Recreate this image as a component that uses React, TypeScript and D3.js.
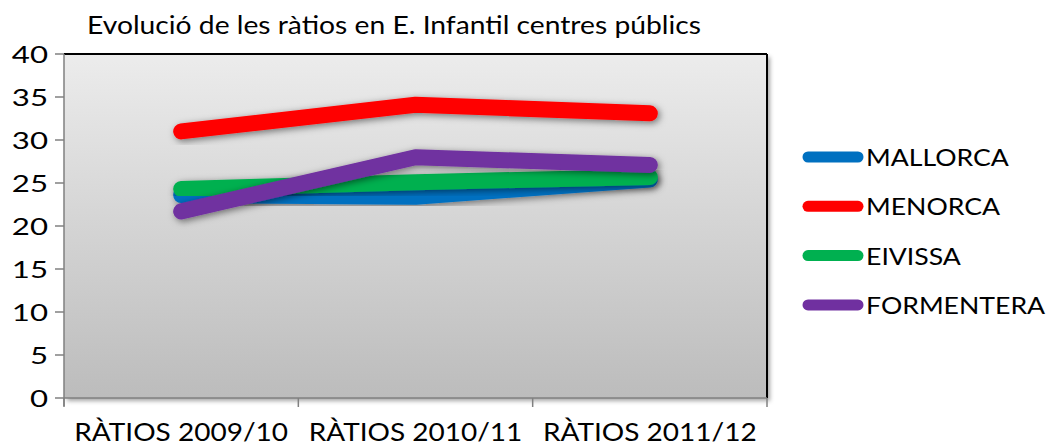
import React from "react";
import * as d3 from "d3";

const categories = ["RÀTIOS 2009/10", "RÀTIOS 2010/11", "RÀTIOS 2011/12"];
const seriesNames = ["MALLORCA", "MENORCA", "EIVISSA", "FORMENTERA"];
const seriesColors = ["#0070c0", "#ff0000", "#00b050", "#7030a0"];
const mallorca = [23.6, 23.4, 25.4];
const menorca = [31.0, 34.1, 33.1];
const eivissa = [24.3, 25.1, 25.7];
const formentera = [21.7, 28.0, 27.1];
const yTicks = [0, 5, 10, 15, 20, 25, 30, 35, 40];
const title = "Evolució de les ràtios en E. Infantil centres públics";

const W = 1052;
const H = 446;
const left = 64;
const right = 767;
const top = 54;
const bottom = 398;
const FONT = "'Lato', 'Open Sans', sans-serif";

function SText({
  x,
  y,
  sx,
  size,
  anchor,
  children,
}: {
  x: number;
  y: number;
  sx: number;
  size: number;
  anchor: "start" | "middle" | "end";
  children: React.ReactNode;
}) {
  return (
    <g transform={`translate(${x},${y}) scale(${sx},1)`}>
      <text x={0} y={0} textAnchor={anchor} fontFamily={FONT} fontSize={size} fill="#000">
        {children}
      </text>
    </g>
  );
}

export default function App() {
  const x = d3.scaleBand<string>().domain(categories).range([left, right]);
  const y = d3.scaleLinear().domain([0, 40]).range([bottom, top]);
  const data = [mallorca, menorca, eivissa, formentera];
  const line = d3
    .line<number>()
    .x((_, i) => (x(categories[i]) as number) + x.bandwidth() / 2)
    .y((d) => y(d));
  const tickXs = [...categories.map((c) => x(c) as number), right];

  return (
    <div style={{ position: "fixed", left: 0, top: 0 }}>
      <svg width={W} height={H} style={{ display: "block", background: "#fff" }}>
        <defs>
          <linearGradient id="bg" x1="0" y1="0" x2="0" y2="1">
            <stop offset="0" stopColor="#ececec" />
            <stop offset="1" stopColor="#bcbcbc" />
          </linearGradient>
          <filter id="sh" x="-20%" y="-50%" width="140%" height="200%">
            <feDropShadow dx="2" dy="2" stdDeviation="3.5" floodColor="#000" floodOpacity="0.5" />
          </filter>
          <filter id="fsh" x="-5%" y="-5%" width="110%" height="110%">
            <feDropShadow dx="3" dy="3" stdDeviation="2" floodColor="#000" floodOpacity="0.35" />
          </filter>
        </defs>
        <SText x={394} y={34} sx={1.13} size={25} anchor="middle">
          {title}
        </SText>
        <rect
          x={left}
          y={top}
          width={right - left}
          height={bottom - top}
          fill="url(#bg)"
          filter="url(#fsh)"
        />
        <line x1={left} x2={right} y1={top} y2={top} stroke="#000" strokeWidth={2} />
        <line x1={right} x2={right} y1={top} y2={bottom} stroke="#000" strokeWidth={2} />
        <line x1={left} x2={right} y1={bottom} y2={bottom} stroke="#808080" strokeWidth={1.5} />
        <line x1={left} x2={left} y1={top} y2={bottom + 8} stroke="#808080" strokeWidth={1.5} />
        {yTicks.map((t) => (
          <g key={t}>
            <line x1={left - 9} x2={left} y1={y(t)} y2={y(t)} stroke="#808080" strokeWidth={1.5} />
            <SText x={48} y={y(t) + 8.5} sx={1.3} size={24} anchor="end">
              {t}
            </SText>
          </g>
        ))}
        {tickXs.map((tx, i) => (
          <line key={i} x1={tx} x2={tx} y1={bottom} y2={bottom + 9} stroke="#808080" strokeWidth={1.5} />
        ))}
        {categories.map((c) => (
          <SText
            key={c}
            x={(x(c) as number) + x.bandwidth() / 2}
            y={441}
            sx={1.12}
            size={25}
            anchor="middle"
          >
            {c}
          </SText>
        ))}
        {data.map((d, i) => (
          <path
            key={seriesNames[i]}
            d={line(d) as string}
            fill="none"
            stroke={seriesColors[i]}
            strokeWidth={16}
            strokeLinecap="round"
            strokeLinejoin="round"
            filter="url(#sh)"
          />
        ))}
        {seriesNames.map((n, i) => {
          const ly = 157 + i * 49.3;
          return (
            <g key={n}>
              <line
                x1={808}
                x2={858}
                y1={ly}
                y2={ly}
                stroke={seriesColors[i]}
                strokeWidth={11}
                strokeLinecap="round"
              />
              <SText x={866} y={ly + 9} sx={1.11} size={24} anchor="start">
                {n}
              </SText>
            </g>
          );
        })}
      </svg>
    </div>
  );
}
